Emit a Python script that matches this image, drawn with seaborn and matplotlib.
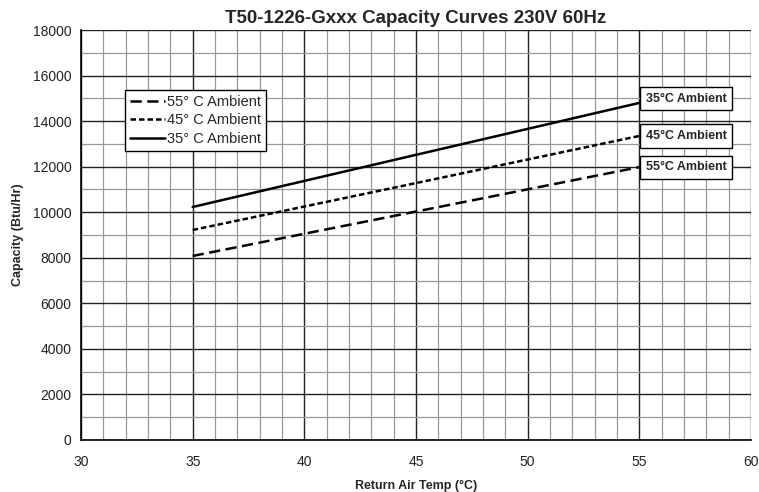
import pandas as pd
import seaborn as sns
import matplotlib.pyplot as plt
from matplotlib.ticker import MultipleLocator

# values
return_temp = [35, 45, 55]
cap_35 = [10230, 12520, 14800]
cap_45 = [9220, 11280, 13350]
cap_55 = [8080, 10030, 11980]

series_names = ["55° C Ambient", "45° C Ambient", "35° C Ambient"]
end_labels = ["55°C Ambient", "45°C Ambient", "35°C Ambient"]
title = "T50-1226-Gxxx Capacity Curves 230V 60Hz"


def main():
    sns.set_style("white")
    plt.rcParams["font.family"] = ["Liberation Sans", "DejaVu Sans"]

    df = pd.concat([
        pd.DataFrame({"temp": return_temp, "cap": vals, "series": name})
        for name, vals in zip(series_names, [cap_55, cap_45, cap_35])
    ])

    fig = plt.figure(figsize=(7.59, 4.92), dpi=100)
    ax = fig.add_axes([0.1067, 0.1057, 0.8828, 0.8333])

    styles = {
        series_names[0]: (0, (4.5, 2.2)),
        series_names[1]: (0, (2.2, 1.2)),
        series_names[2]: "-",
    }
    for name in series_names:
        sub = df[df["series"] == name]
        sns.lineplot(data=sub, x="temp", y="cap", ax=ax, color="black",
                     linewidth=1.8, linestyle=styles[name], label=name)

    ax.set_xlim(30, 60)
    ax.set_ylim(0, 18000)
    ax.xaxis.set_major_locator(MultipleLocator(5))
    ax.xaxis.set_minor_locator(MultipleLocator(1))
    ax.yaxis.set_major_locator(MultipleLocator(2000))
    ax.yaxis.set_minor_locator(MultipleLocator(1000))
    ax.grid(which="minor", color="#999999", linewidth=0.9)
    ax.grid(which="major", color="#222222", linewidth=1.0)
    ax.set_axisbelow(True)

    for side in ["top", "right"]:
        ax.spines[side].set_visible(False)
    for side in ["left", "bottom"]:
        ax.spines[side].set_color("black")
        ax.spines[side].set_linewidth(1.2)
    ax.tick_params(which="major", direction="out", length=4, width=1,
                   color="black", labelsize=10, labelcolor="#222222", pad=3)
    ax.tick_params(which="minor", length=0)
    ax.tick_params(axis="x", pad=7)

    ax.set_xlabel("Return Air Temp (°C)", fontsize=9, fontweight="bold", labelpad=8)
    ax.set_ylabel("Capacity (Btu/Hr)", fontsize=9, fontweight="bold", labelpad=6)
    ax.set_title(title, fontsize=13.5, fontweight="bold", pad=5)

    leg = ax.legend(loc="upper left", bbox_to_anchor=(0.066, 0.854),
                    frameon=True, fancybox=False, fontsize=10.5,
                    handlelength=2.4, handletextpad=0.1, borderpad=0.35,
                    labelspacing=0.3, borderaxespad=0)
    leg.get_frame().set_edgecolor("black")
    leg.get_frame().set_linewidth(1.0)
    leg.get_frame().set_alpha(1)

    label_nudge = [0, 0, 3]
    for lbl, vals, dy in zip(end_labels, [cap_55, cap_45, cap_35], label_nudge):
        ax.annotate(lbl, xy=(return_temp[-1], vals[-1]), xytext=(4.5, dy),
                    textcoords="offset points", ha="left", va="center",
                    fontsize=9, fontweight="bold",
                    bbox=dict(boxstyle="square,pad=0.45", facecolor="white",
                              edgecolor="black", linewidth=1.0))

    fig.savefig("out.png", dpi=100)
    plt.close(fig)


if __name__ == "__main__":
    main()
